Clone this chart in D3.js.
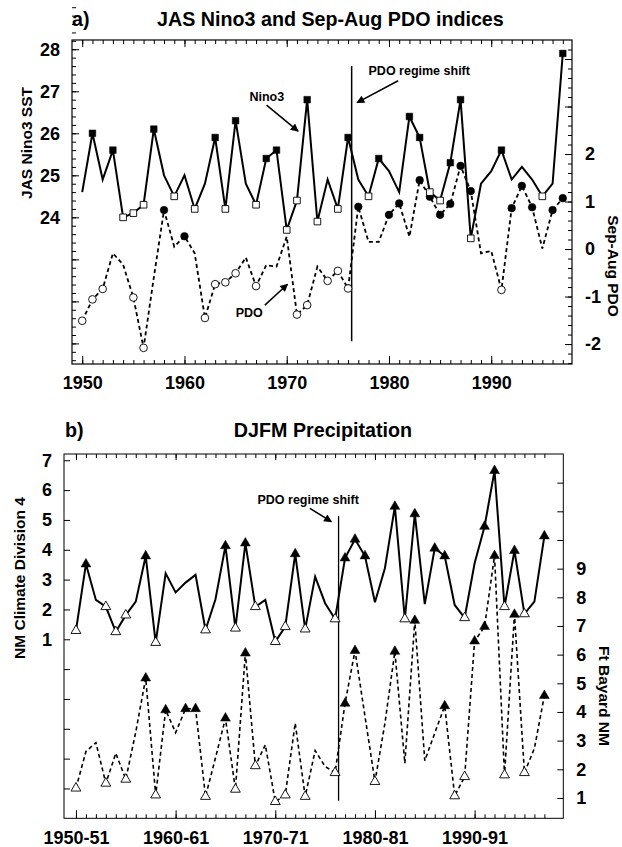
<!DOCTYPE html>
<html>
<head>
<meta charset="utf-8">
<script src="https://cdn.jsdelivr.net/npm/d3@7"></script>
<style>
  body { margin: 0; background: #fff; }
</style>
</head>
<body>
<div id="chart"></div>
<script>
// ---- panel a data (JAS Nino3 SST, Sep-Aug PDO), 1950..1997
var years = [1950,1951,1952,1953,1954,1955,1956,1957,1958,1959,
             1960,1961,1962,1963,1964,1965,1966,1967,1968,1969,
             1970,1971,1972,1973,1974,1975,1976,1977,1978,1979,
             1980,1981,1982,1983,1984,1985,1986,1987,1988,1989,
             1990,1991,1992,1993,1994,1995,1996,1997];
var nino3 = [24.6,26.0,24.9,25.6,24.0,24.1,24.3,26.1,25.0,24.5,
             25.0,24.2,24.8,25.9,24.2,26.3,24.8,24.3,25.4,25.6,
             23.7,24.4,26.8,23.9,24.9,24.2,25.9,24.9,24.5,25.4,
             25.1,24.6,26.4,25.9,24.6,24.4,25.3,26.8,23.5,24.8,
             25.1,25.6,24.9,25.2,24.9,24.5,24.8,27.9];
// f = filled marker, o = open marker, "" = none
var nino3Marks = ["","f","","f","o","o","o","f","","o",
                  "","o","","f","o","f","","o","f","f",
                  "o","o","f","o","","o","f","","o","f",
                  "","","f","f","o","o","f","f","o","",
                  "","f","","","","o","","f"];
var pdo = [-1.51,-1.06,-0.84,-0.09,-0.33,-1.02,-2.08,-0.6,0.82,0.05,
           0.27,-0.09,-1.45,-0.74,-0.70,-0.51,-0.18,-0.78,-0.34,-0.37,
           0.26,-1.38,-1.18,-0.37,-0.67,-0.46,-0.83,0.89,0.15,0.15,
           0.72,0.96,0.26,1.45,1.10,0.72,0.95,1.75,1.22,-0.09,
           -0.04,-0.86,0.86,1.33,0.88,0.01,0.82,1.07];
var pdoMarks = ["o","o","o","","","o","o","","f","",
                "f","","o","o","o","o","","o","","",
                "","o","o","","o","o","o","f","","",
                "f","f","","f","f","f","f","f","f","",
                "","o","f","f","f","","f","f"];

// ---- panel b data (DJFM precipitation), winters 1950-51 .. 1997-98
var winters = [1950,1951,1952,1953,1954,1955,1956,1957,1958,1959,
               1960,1961,1962,1963,1964,1965,1966,1967,1968,1969,
               1970,1971,1972,1973,1974,1975,1976,1977,1978,1979,
               1980,1981,1982,1983,1984,1985,1986,1987,1988,1989,
               1990,1991,1992,1993,1994,1995,1996,1997];
var nmDiv4 = [1.29,3.52,2.32,2.09,1.25,1.81,2.26,3.79,0.89,3.21,
              2.57,2.90,3.16,1.31,2.34,4.13,1.37,4.22,2.09,2.32,
              0.92,1.42,3.86,1.34,3.10,2.21,1.68,3.72,4.35,3.79,
              2.24,3.38,5.45,1.68,5.20,2.18,4.05,3.79,2.15,1.72,
              3.55,4.78,6.65,2.09,3.97,1.85,2.26,4.46];
var nmMarks = ["o","f","","o","o","o","","f","o","",
               "","","","o","","f","o","f","o","",
               "o","o","f","o","","","o","f","f","f",
               "","","f","o","f","","f","f","","o",
               "","f","f","o","f","o","","f"];
var ftBayard = [1.34,2.62,2.93,1.51,2.56,1.65,3.3,5.18,1.10,4.07,
                3.28,4.11,4.11,1.05,2.4,3.78,1.30,6.05,2.12,2.85,
                0.87,1.10,3.61,1.05,2.65,2.1,1.88,4.30,6.14,3.85,
                1.57,3.6,6.11,2.21,7.19,2.30,3.26,4.21,1.07,1.74,
                6.47,6.98,9.45,1.80,7.40,1.88,2.73,4.57];
var fbMarks = ["o","","","o","","o","","f","o","f",
               "","f","f","o","","f","o","f","o","",
               "o","o","","o","","","o","f","f","",
               "o","","f","","f","","","f","o","o",
               "f","f","f","o","f","o","","f"];

// ---- tick labels
var decades = [1950,1960,1970,1980,1990];
var ninoTicks = [24,25,26,27,28];
var pdoTicks = [-2,-1,0,1,2];
var nmTicks = [1,2,3,4,5,6,7];
var fbTicks = [1,2,3,4,5,6,7,8,9];
var shiftYear = 1976.35;

var font = "'Liberation Sans', Arial, Helvetica, sans-serif";
var tickFont = "'Liberation Sans Narrow', 'Arial Narrow', 'Liberation Sans', sans-serif";
var W = 622, H = 847;

var svg = d3.select("#chart").append("svg")
  .attr("width", W).attr("height", H)
  .style("font-family", font);

svg.append("rect").attr("width", W).attr("height", H).attr("fill", "#fff");

var defs = svg.append("defs");
defs.append("marker")
  .attr("id", "arrow")
  .attr("viewBox", "0 0 10 10")
  .attr("refX", 9).attr("refY", 5)
  .attr("markerWidth", 10).attr("markerHeight", 8)
  .attr("markerUnits", "userSpaceOnUse")
  .attr("orient", "auto")
  .append("path").attr("d", "M0,0 L10,5 L0,10 z").attr("fill", "#000");

// plain hyphen for negatives, like the original
function plain(d) { return String(d); }

function cleanAxis(g) {
  g.select(".domain").remove();
  g.selectAll("line").attr("stroke", "#000").attr("stroke-width", 1);
}

// inward tick marks without labels
function ticks(axis, pos, vals, len) {
  svg.append("g")
    .attr("transform", pos)
    .call(axis.tickValues(vals).tickSize(-len).tickFormat(""))
    .call(cleanAxis);
}

// inward tick marks with labels
function labelled(axis, pos, vals, len, pad, fmt) {
  var g = svg.append("g")
    .attr("transform", pos)
    .call(axis.tickValues(vals).tickSize(-len).tickPadding(pad).tickFormat(fmt))
    .call(cleanAxis);
  g.selectAll("text")
    .attr("fill", "#000")
    .style("font-family", tickFont)
    .style("font-size", "18px")
    .style("font-weight", "bold");
  return g;
}

function rows(xs, vals, marks) {
  return vals.map(function(v, i) { return { yr: xs[i], v: v, m: marks[i] }; });
}

function drawSeries(data, x, y, dashed, width) {
  var line = d3.line().x(function(d) { return x(d.yr); }).y(function(d) { return y(d.v); });
  svg.append("path")
    .datum(data)
    .attr("d", line)
    .attr("fill", "none")
    .attr("stroke", "#000")
    .attr("stroke-width", width)
    .attr("stroke-linejoin", "miter")
    .attr("stroke-dasharray", dashed ? "4,3" : null);
}

function drawMarks(data, x, y, type, size) {
  svg.append("g").selectAll("path")
    .data(data.filter(function(d) { return d.m; }))
    .enter().append("path")
    .attr("d", d3.symbol().type(type).size(size))
    .attr("transform", function(d) { return "translate(" + x(d.yr) + "," + y(d.v) + ")"; })
    .attr("fill", function(d) { return d.m === "f" ? "#000" : "#fff"; })
    .attr("stroke", "#000")
    .attr("stroke-width", function(d) { return d.m === "f" ? 0.5 : 0.9; });
}

function note(txt, x, y, size, anchor) {
  return svg.append("text")
    .attr("x", x).attr("y", y)
    .attr("text-anchor", anchor || "middle")
    .style("font-size", size + "px")
    .style("font-weight", "bold")
    .text(txt);
}

function arrow(x1, y1, x2, y2) {
  svg.append("line")
    .attr("x1", x1).attr("y1", y1).attr("x2", x2).attr("y2", y2)
    .attr("stroke", "#000").attr("stroke-width", 1.5)
    .attr("marker-end", "url(#arrow)");
}

function vtitle(txt, x, y, angle) {
  svg.append("text")
    .attr("transform", "translate(" + x + "," + y + ") rotate(" + angle + ")")
    .attr("text-anchor", "middle")
    .attr("dy", "0.35em")
    .style("font-size", "15.5px")
    .style("font-weight", "bold")
    .text(txt);
}

// ================= panel a =================
var xa = d3.scaleLinear().domain([1949, 1997.9]).range([72, 572]);
var yaL = d3.scaleLinear().domain([20.51, 28.22]).range([364, 40]);
var yaR = d3.scaleLinear().domain([-2.42, 4.40]).range([364, 40]);

svg.append("rect")
  .attr("x", xa.range()[0]).attr("y", yaL.range()[1])
  .attr("width", xa.range()[1] - xa.range()[0])
  .attr("height", yaL.range()[0] - yaL.range()[1])
  .attr("fill", "none").attr("stroke", "#000").attr("stroke-width", 1.2);

ticks(d3.axisBottom(xa), "translate(0,364)", years, 4);
labelled(d3.axisBottom(xa), "translate(0,364)", decades, 8, 12.5, plain);
ticks(d3.axisTop(xa), "translate(0,40)", years, 4);
ticks(d3.axisTop(xa), "translate(0,40)", decades, 7);

var leftMinor = d3.range(103, 282).map(function(k) { return k / 5; });
ticks(d3.axisLeft(yaL), "translate(72,0)", leftMinor, 4);
ticks(d3.axisLeft(yaL), "translate(72,0)", [21, 22, 23], 7);
labelled(d3.axisLeft(yaL), "translate(72,0)", ninoTicks, 7, 12, plain);

var rightMinor = d3.range(-12, 22).map(function(k) { return k / 5; });
ticks(d3.axisRight(yaR), "translate(572,0)", rightMinor, 4);
ticks(d3.axisRight(yaR), "translate(572,0)", [3, 4], 7);
labelled(d3.axisRight(yaR), "translate(572,0)", pdoTicks, 7, 13, plain);

var ninoRows = rows(years, nino3, nino3Marks);
var pdoRows = rows(years, pdo, pdoMarks);
drawSeries(pdoRows, xa, yaR, true, 1.8);
drawSeries(ninoRows, xa, yaL, false, 2);

svg.append("line")
  .attr("x1", xa(shiftYear)).attr("x2", xa(shiftYear))
  .attr("y1", yaL(27.6)).attr("y2", yaL(21.05))
  .attr("stroke", "#000").attr("stroke-width", 1.5);

drawMarks(pdoRows, xa, yaR, d3.symbolCircle, 46);
drawMarks(ninoRows, xa, yaL, d3.symbolSquare, 44);

note("Nino3", xa(1968.05), yaL(26.77), 12.5);
arrow(xa(1968.03), yaL(26.67), xa(1971.11), yaL(26.05));
note("PDO regime shift", xa(1982.96), yaL(27.39), 12.5);
arrow(xa(1980.89), yaL(27.25), xa(1976.88), yaL(26.73));
note("PDO", xa(1966.34), yaR(-1.43), 12.5);
arrow(xa(1967.86), yaR(-1.18), xa(1970.08), yaR(-0.74));

note("a)", 72, 26, 19.7, "start");
note("JAS Nino3 and Sep-Aug PDO indices", 157, 26, 19.7, "start");
vtitle("JAS Nino3 SST", 27, 143, -90);
vtitle("Sep-Aug PDO", 613, 266, 90);

// ================= panel b =================
var xb = d3.scaleLinear().domain([1948.8, 1998.9]).range([64, 563.3]);
var ybL = d3.scaleLinear().domain([-5.0, 7.21]).range([818.3, 454]);
var ybR = d3.scaleLinear().domain([0.29, 13.0]).range([818.3, 454]);

svg.append("rect")
  .attr("x", xb.range()[0]).attr("y", ybL.range()[1])
  .attr("width", xb.range()[1] - xb.range()[0])
  .attr("height", ybL.range()[0] - ybL.range()[1])
  .attr("fill", "none").attr("stroke", "#000").attr("stroke-width", 1);

ticks(d3.axisBottom(xb), "translate(0,818.3)", winters, 4);
labelled(d3.axisBottom(xb), "translate(0,818.3)", decades, 8, 13.3,
  function(d) { return d + "-" + String(d + 1).slice(2); });
ticks(d3.axisTop(xb), "translate(0,454)", winters, 4);
ticks(d3.axisTop(xb), "translate(0,454)", decades, 6);

ticks(d3.axisLeft(ybL), "translate(64,0)", [-4, -3, -2, -1, 0], 6);
labelled(d3.axisLeft(ybL), "translate(64,0)", nmTicks, 6, 12, plain);
ticks(d3.axisRight(ybR), "translate(563.3,0)", [10, 11, 12], 6);
labelled(d3.axisRight(ybR), "translate(563.3,0)", fbTicks, 6, 13, plain);

var nmRows = rows(winters, nmDiv4, nmMarks);
var fbRows = rows(winters, ftBayard, fbMarks);
drawSeries(fbRows, xb, ybR, true, 1.6);
drawSeries(nmRows, xb, ybL, false, 2);

svg.append("line")
  .attr("x1", xb(shiftYear)).attr("x2", xb(shiftYear))
  .attr("y1", ybL(5.13)).attr("y2", ybL(-4.41))
  .attr("stroke", "#000").attr("stroke-width", 1.3);

drawMarks(fbRows, xb, ybR, d3.symbolTriangle, 42);
drawMarks(nmRows, xb, ybL, d3.symbolTriangle, 42);

note("PDO regime shift", xb(1973.3), ybL(5.54), 12.5);
arrow(xb(1973.47), ybL(5.39), xb(1975.63), ybL(4.94));

note("b)", 65, 437, 19.7, "start");
note("DJFM Precipitation", 323, 437, 19.7, "middle");
vtitle("NM Climate Division 4", 20, 578, -90);
vtitle("Ft Bayard NM", 604, 696, 90);
</script>
</body>
</html>
